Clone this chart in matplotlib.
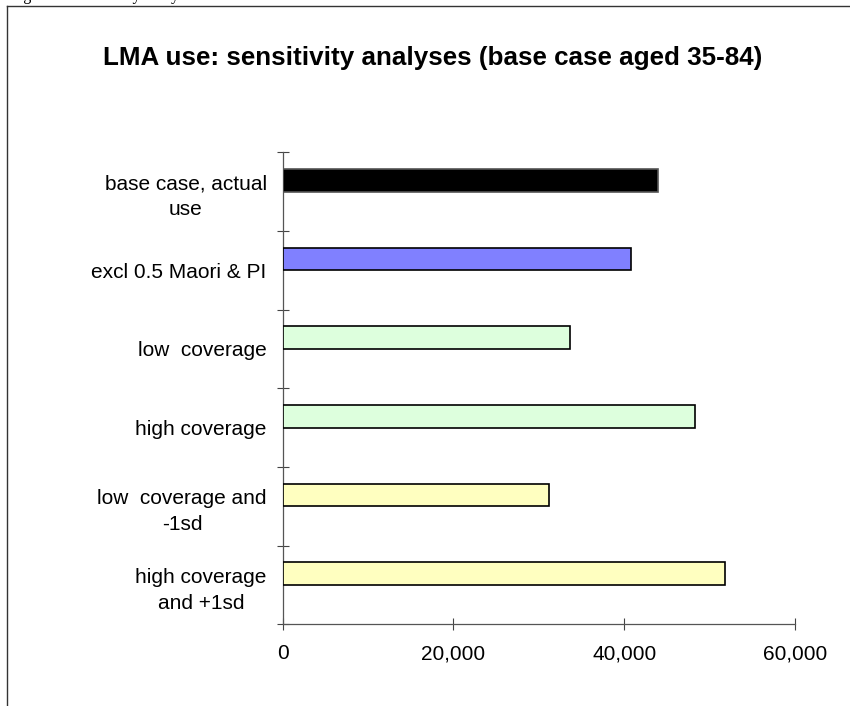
import matplotlib
matplotlib.use("Agg")
import matplotlib.pyplot as plt
from matplotlib.lines import Line2D
from matplotlib.ticker import FuncFormatter, FixedLocator

plt.rcParams['font.family'] = ['Liberation Sans', 'DejaVu Sans']

# scenario results, top to bottom
scenarios = [
    "base case, actual\nuse",
    "excl 0.5 Maori & PI",
    "low  coverage",
    "high coverage",
    "low  coverage and\n-1sd",
    "high coverage\nand +1sd",
]
lma_use = [43900, 40800, 33600, 48300, 31200, 51800]
fills = ['#000000', '#8080FF', '#DDFFDD', '#DDFFDD', '#FFFFC0', '#FFFFC0']
edges = ['#555555', '#000000', '#000000', '#000000', '#000000', '#000000']
x_ticks = [0, 20000, 40000, 60000]

W, H = 850, 706
fig = plt.figure(figsize=(W / 100, H / 100), dpi=100)

# outer chart frame (runs off the right and bottom of the page)
fig.add_artist(Line2D([7 / W, 1.0], [1 - 6 / H, 1 - 6 / H], color='#333333', lw=1.0))
fig.add_artist(Line2D([7 / W, 7 / W], [0.0, 1 - 6 / H], color='#333333', lw=1.0))

# caption line above the chart; only its descenders fall on the page
fig.text(10 / W, 1.0, "Figure 5: Sensitivity analyses", family='Liberation Serif',
         fontsize=11.5, va='baseline', ha='left')

ax = fig.add_axes([282.5 / W, 1 - 624.3 / H, (795.2 - 282.5) / W, (624.3 - 152.3) / H])

pos = list(range(len(scenarios)))
# Excel-style cluster: bar sits in the upper half of each category band
ax.barh([p - 0.143 for p in pos], lma_use, height=0.286, color=fills,
        edgecolor=edges, linewidth=1.2, zorder=3)

ax.set_xlim(0, 60000)
ax.set_ylim(len(scenarios) - 0.5, -0.5)

ax.xaxis.set_major_locator(FixedLocator(x_ticks))
ax.xaxis.set_major_formatter(FuncFormatter(lambda v, _: f"{v:,.0f}"))
ax.tick_params(axis='x', direction='inout', length=8.6, width=0.8, color='#444444',
               labelsize=15, pad=10)

ax.set_yticks(pos)
ax.set_yticklabels(scenarios, multialignment='center', linespacing=1.45)
ax.set_yticks([p - 0.5 for p in pos] + [len(pos) - 0.5], minor=True)
ax.tick_params(axis='y', which='major', length=0, labelsize=15, pad=11.4)
ax.tick_params(axis='y', which='minor', direction='inout', length=8.6, width=0.8,
               color='#444444')

for side in ('top', 'right'):
    ax.spines[side].set_visible(False)
for side in ('left', 'bottom'):
    ax.spines[side].set_color('#555555')
    ax.spines[side].set_linewidth(0.9)

fig.text(432.5 / W, 1 - 65 / H, "LMA use: sensitivity analyses (base case aged 35-84)",
         ha='center', va='baseline', fontsize=18.7, fontweight='bold')

fig.savefig("out.png", dpi=100)
